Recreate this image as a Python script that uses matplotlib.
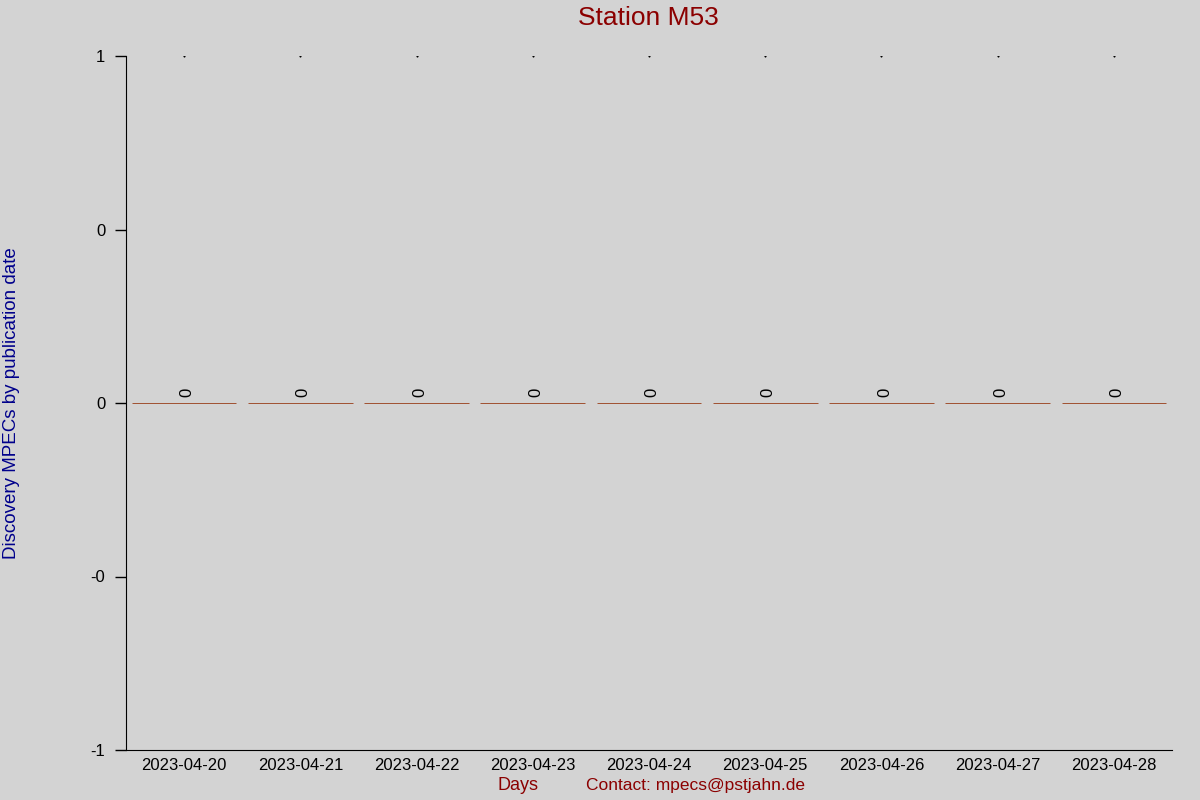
import matplotlib
matplotlib.use('Agg')
import matplotlib.pyplot as plt
import numpy as np

plt.rcParams['font.family'] = ['Liberation Sans', 'DejaVu Sans']

days = ['2023-04-20', '2023-04-21', '2023-04-22', '2023-04-23', '2023-04-24',
        '2023-04-25', '2023-04-26', '2023-04-27', '2023-04-28']
mpecs = [0, 0, 0, 0, 0, 0, 0, 0, 0]
ytick_vals = [-1, -0.5, 0, 0.5, 1]
ytick_labels = ['-1', '-0', '0', '0', '1']

bg = '#d3d3d3'
fig = plt.figure(figsize=(12, 8), dpi=100, facecolor=bg)
ax = fig.add_axes([0.105, 0.0625, 0.8717, 0.8675])
ax.set_facecolor(bg)

x = np.arange(len(days))
ax.bar(x, mpecs, width=0.9, color='#c04010', edgecolor='#a05030', linewidth=0.7)
for xi, v in zip(x, mpecs):
    ax.text(xi + 0.025, v + 0.018, str(v), rotation=90, ha='center', va='bottom', fontsize=12)
# tiny marks at the top of each column
ax.plot(x, [1] * len(x), linestyle='none', marker='s', markersize=0.5, color='black')

ax.set_xlim(-0.5, len(days) - 0.5)
ax.set_ylim(-1, 1)
ax.set_xticks(x)
ax.set_xticklabels(days, fontsize=12)
ax.tick_params(axis='x', length=0, pad=6)
ax.set_yticks(ytick_vals)
ax.set_yticklabels(ytick_labels, fontsize=12)
ax.tick_params(axis='y', length=8, width=1, pad=7)
ax.spines['top'].set_visible(False)
ax.spines['right'].set_visible(False)

fig.text(0.54, 0.977, 'Station M53', ha='center', va='center', fontsize=19, color='#8b0000')
fig.text(0.0095, 0.496, 'Discovery MPECs by publication date', rotation=90,
         ha='center', va='center', fontsize=13.5, color='#00008b')
fig.text(0.432, 0.018, 'Days', ha='center', va='center', fontsize=13, color='#8b0000')
fig.text(0.58, 0.018, 'Contact: mpecs@pstjahn.de', ha='center', va='center', fontsize=12.5, color='#8b0000')

fig.savefig('out.png', dpi=100, facecolor=bg)
